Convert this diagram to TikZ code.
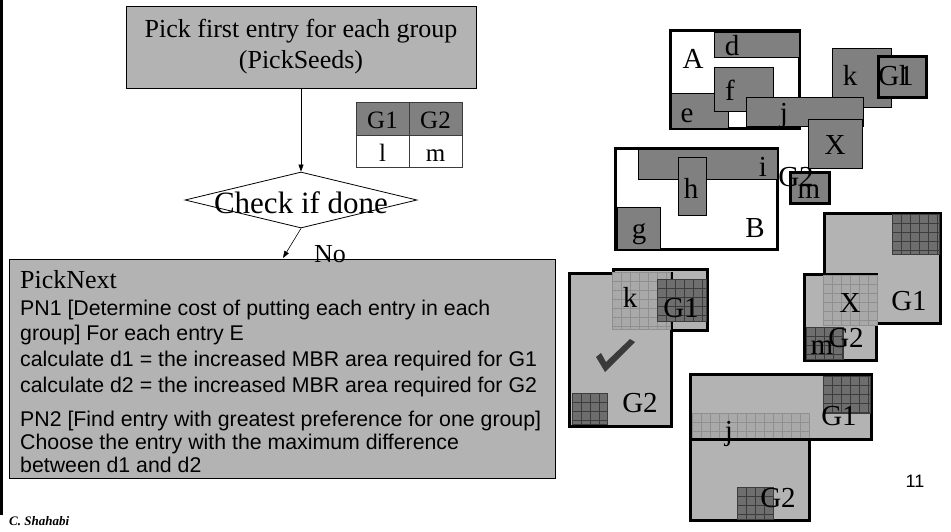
\documentclass[tikz,border=0pt]{standalone}
\usepackage{fontspec}
\setmainfont{Liberation Serif}
\newfontfamily\arialfont{Liberation Sans}
\usetikzlibrary{shapes.geometric,arrows.meta}

\definecolor{boxgray}{HTML}{B3B3B3}
\definecolor{rectgray}{HTML}{808080}
\definecolor{darkfill}{HTML}{6E6E6E}
\definecolor{darkline}{HTML}{3C3C3C}
\definecolor{lightfill}{HTML}{A9A9A9}
\definecolor{lightline}{HTML}{8F8F8F}
\definecolor{tickgray}{HTML}{3A3A3A}

\newcommand{\fsize}[1]{\fontsize{#1}{#1}\selectfont}

% filled rectangle with a 9pt grid on it (dark or light)
\newcommand{\gridrect}[5]{%
  \fill[#1fill] (#2,#3) rectangle (#4,#5);
  \draw[#1line, line width=0.6pt, shift={(#2,#3)}, step=9pt] (0,0) grid ({#4-#2},{#5-#3});
  \draw[#1line, line width=0.6pt] (#2,#3) rectangle (#4,#5);
}

\tikzset{
  flowbox/.style={draw, fill=boxgray, line width=0.8pt, inner sep=0pt},
  flowarrow/.style={line width=0.6pt, -{Triangle[length=7pt,width=5pt]}},
  mbr/.style={draw, line width=3pt, fill=boxgray},
  entry/.style={draw, line width=0.8pt, fill=rectgray},
  lbl/.style={font=\fsize{29}, inner sep=0pt, anchor=base},
  pntext/.style={font=\arialfont\fsize{21.3}, inner sep=0pt, anchor=base west},
}

\begin{document}
\begin{tikzpicture}[x=1pt,y=-1pt]
  \useasboundingbox (0,0) rectangle (951,531);
  \fill[black] (0,0) rectangle (3,515);

  % flow chart
  \node[flowbox, minimum width=350pt, minimum height=82pt, align=center,
        font=\fontsize{26}{31}\selectfont] (seeds) at (301,47)
        {Pick first entry for each group\\(PickSeeds)};
  \node[draw, diamond, line width=0.8pt, inner sep=0pt,
        minimum width=232pt, minimum height=56pt] (check) at (301,200) {};
  \node[font=\fsize{31}, inner sep=0pt, anchor=base] (checktext) at (301,213) {Check if done};
  \draw[flowarrow] (seeds.south) -- (check.north);

  \node[flowbox, minimum width=546pt, minimum height=219pt, anchor=north west] (next) at (9,259) {};
  \coordinate (noend) at (283,258);
  \draw[flowarrow] (check.south) -- (noend);
  \node[font=\fsize{26}, inner sep=0pt, anchor=base west] (no) at (314,262) {No};

  \node[font=\fsize{26}, inner sep=0pt, anchor=base west] (pntitle) at (20,288) {PickNext};
  \foreach \y/\txt [count=\i] in {
      315/{PN1 [Determine cost of putting each entry in each},
      340/{group] For each entry E},
      366/{calculate d1 = the increased MBR area required for G1},
      392/{calculate d2 = the increased MBR area required for G2},
      426/{PN2 [Find entry with greatest preference for one group]},
      449/{Choose the entry with the maximum difference},
      472/{between d1 and d2}}
    \node[pntext] (pn\i) at (20,\y) {\txt};

  % seeds table
  \filldraw[fill=rectgray, draw=darkline, line width=0.8pt] (356,102) rectangle (462,135);
  \draw[darkline, line width=0.8pt] (356,135) rectangle (462,167);
  \draw[darkline, line width=0.8pt] (409,102) -- (409,167);
  \node[font=\fsize{25}, inner sep=0pt, anchor=base] (tabG1) at (382.5,128) {G1};
  \node[font=\fsize{25}, inner sep=0pt, anchor=base] (tabG2) at (435.5,128) {G2};
  \node[font=\fsize{25}, inner sep=0pt, anchor=base] (tabl) at (382.5,161) {l};
  \node[font=\fsize{25}, inner sep=0pt, anchor=base] (tabm) at (435.5,161) {m};

  % entries before the split
  \filldraw[mbr, fill=white] (670.5,30.5) rectangle (799.5,128.5);
  \filldraw[entry] (714,32) rectangle (799,57);
  \filldraw[entry] (671,93) rectangle (728,128);
  \filldraw[entry] (714,67) rectangle (773,111);
  \filldraw[entry] (832,48) rectangle (891,107);
  \filldraw[mbr, fill=rectgray] (878.5,56.5) rectangle (926.5,97.5);
  \filldraw[entry] (746,97) rectangle (863,126);
  \filldraw[entry] (808,119) rectangle (862,168);
  \node[lbl] (lA) at (693,68) {A};
  \node[lbl] (ld) at (732,55) {d};
  \node[lbl] (lf) at (730,100) {f};
  \node[lbl] (le) at (687,122) {e};
  \node[lbl] (lj) at (784,122) {j};
  \node[lbl] (lk) at (850,85) {k};
  \node[lbl] (lG1) at (896,85) {G1};
  \node[lbl] (ll) at (903,85) {l};
  \node[lbl] (lX) at (835,154) {X};

  \filldraw[mbr, fill=white] (615.5,148.5) rectangle (777.5,249.5);
  \filldraw[entry] (638,149) rectangle (777,179);
  \filldraw[entry] (678,157) rectangle (706,215);
  \filldraw[entry] (617,207) rectangle (660,249);
  \filldraw[mbr, fill=rectgray] (790.5,172.5) rectangle (829.5,203.5);
  \node[lbl] (li) at (763,176) {i};
  \node[lbl] (lh) at (691,198) {h};
  \node[lbl] (lg) at (639,238) {g};
  \node[lbl] (lB) at (755,237) {B};
  \node[lbl] (lG2) at (796,186) {G2};
  \node[lbl] (lm) at (809,198) {m};

  % k goes to G2
  \filldraw[mbr] (613.5,269.5) rectangle (707.5,330.5);
  \filldraw[mbr] (569.5,273.5) rectangle (671.5,426.5);
  \gridrect{light}{612}{272}{670}{329}
  \gridrect{dark}{657}{279}{706}{321}
  \gridrect{dark}{572}{393}{607}{424}
  \fill[tickgray, line join=round] (596,357) -- (601,353) -- (606,362)
    -- (630,339) -- (635,342) -- (605,372) -- cycle;
  \node[lbl] (lk2) at (630,307) {k};
  \node[lbl] (lG1a) at (681,317) {G1};
  \node[lbl] (lG2a) at (640,412) {G2};

  % X goes to G1
  \filldraw[mbr] (824.5,213.5) rectangle (940.5,323.5);
  \filldraw[mbr] (804.5,274.5) rectangle (876.5,360.5);
  \gridrect{light}{823}{275}{877}{325}
  \gridrect{dark}{806}{327}{843}{359}
  \gridrect{dark}{892}{214}{939}{254}
  \node[lbl] (lX2) at (850,312) {X};
  \node[lbl] (lG1b) at (909,310) {G1};
  \node[lbl] (lm2) at (822,354) {m};
  \node[lbl] (lG2b) at (846,347) {G2};

  % j goes to G1
  \filldraw[mbr] (690.5,414.5) rectangle (809.5,520.5);
  \fill[boxgray] (690.5,374.5) rectangle (871.5,439.5);
  \gridrect{light}{692}{413}{809}{440}
  \draw[line width=3pt] (690.5,374.5) rectangle (871.5,439.5);
  \gridrect{dark}{823}{376}{870}{413}
  \gridrect{dark}{737}{487}{773}{519}
  \node[lbl] (lj2) at (729,440) {j};
  \node[lbl] (lG1c) at (839,425) {G1};
  \node[lbl] (lG2c) at (778,507) {G2};

  \node[font=\arialfont\fsize{18}, inner sep=0pt, anchor=base] (page) at (915,487) {11};
  \node[font=\bfseries\itshape\fsize{13}, inner sep=0pt, anchor=base west] (author) at (9,525) {C. Shahabi};
\end{tikzpicture}
\end{document}
